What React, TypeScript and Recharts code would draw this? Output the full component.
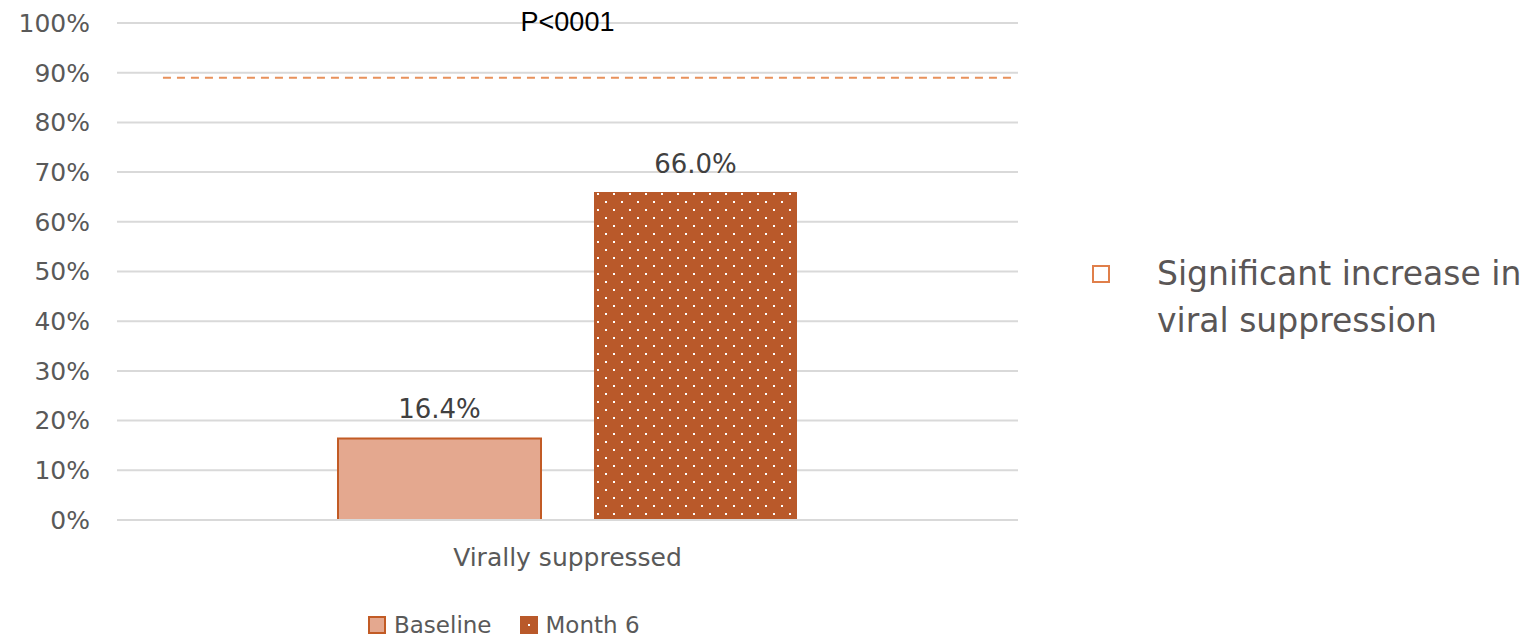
import React from 'react';
import {
  BarChart,
  Bar,
  XAxis,
  YAxis,
  CartesianGrid,
  ReferenceLine,
  LabelList,
  Legend,
} from 'recharts';

const categories = ['Virally suppressed'];
const baselineValues = [16.4];
const month6Values = [66.0];
const yTicks = [0, 10, 20, 30, 40, 50, 60, 70, 80, 90, 100];
const targetLine = 89;
const pValueText = 'P<0001';
const bulletLines = ['Significant increase in', 'viral suppression'];

const FONT = '"DejaVu Sans", sans-serif';
const TEXT = '#595959';
const BASE_FILL = '#E4A88F';
const BASE_STROKE = '#C25B25';
const M6_FILL = '#B9592A';
const DASH = '#E8915B';

const chartData = categories.map((name, i) => ({
  name,
  baseline: baselineValues[i],
  month6: month6Values[i],
}));

// dashed target line, starts a little in from the left edge of the plot
const TargetShape = (props: any) => {
  const { x1, x2, y1 } = props;
  const start = x1 + (x2 - x1) * 0.051;
  return (
    <line x1={start} x2={x2 - 2} y1={y1} y2={y1} stroke={DASH} strokeWidth={2} strokeDasharray="8 6" />
  );
};

const PLabel = (props: any) => {
  const { viewBox } = props;
  const cx = viewBox.x + viewBox.width / 2;
  return (
    <text
      x={cx}
      y={viewBox.y}
      dy={8}
      textAnchor="middle"
      fill="#000"
      fontFamily='"Liberation Sans", sans-serif'
      fontSize={27}
    >
      {pValueText}
    </text>
  );
};

const LegendContent = () => (
  <div style={{ display: 'flex', alignItems: 'center', fontFamily: FONT, fontSize: 23, color: TEXT }}>
    <svg width={18} height={18} style={{ marginRight: 8 }}>
      <rect x={1} y={1} width={16} height={16} fill={BASE_FILL} stroke={BASE_STROKE} strokeWidth={2} />
    </svg>
    <span style={{ marginRight: 28 }}>Baseline</span>
    <svg width={18} height={18} style={{ marginRight: 8 }}>
      <rect x={0} y={0} width={18} height={18} fill={M6_FILL} />
      <rect x={8} y={8} width={2} height={2} fill="#fff" />
    </svg>
    <span>Month 6</span>
  </div>
);

export default function App() {
  return (
    <div style={{ position: 'absolute', left: 0, top: 0, width: 1535, height: 638, background: '#fff' }}>
      <BarChart
        width={1040}
        height={638}
        data={chartData}
        margin={{ top: 23, right: 22, left: 0, bottom: 0 }}
        barGap={53}
        barSize={203}
      >
        <defs>
          <pattern id="dots" width={16} height={16} patternUnits="userSpaceOnUse" x={597} y={193}>
            <rect width={16} height={16} fill={M6_FILL} />
            <rect x={0} y={0} width={2} height={2} fill="#fff" />
            <rect x={8} y={8} width={2} height={2} fill="#fff" />
          </pattern>
        </defs>
        <CartesianGrid vertical={false} stroke="#D9D9D9" strokeWidth={2} />
        <XAxis
          dataKey="name"
          height={118}
          axisLine={{ stroke: '#D9D9D9', strokeWidth: 2 }}
          tickLine={false}
          tickSize={0}
          tickMargin={28}
          tick={{ fill: TEXT, fontFamily: FONT, fontSize: 25 }}
        />
        <YAxis
          domain={[0, 100]}
          ticks={yTicks}
          width={117}
          axisLine={false}
          tickLine={false}
          tickSize={0}
          tickMargin={27}
          tickFormatter={(v: number) => `${v}%`}
          tick={{ fill: TEXT, fontFamily: FONT, fontSize: 25 }}
        />
        <ReferenceLine y={100} stroke="none" label={<PLabel />} />
        <ReferenceLine y={targetLine} shape={<TargetShape />} />
        <Bar dataKey="baseline" fill={BASE_FILL} stroke={BASE_STROKE} strokeWidth={2} isAnimationActive={false}>
          <LabelList
            dataKey="baseline"
            position="top"
            offset={20}
            formatter={(v: any) => `${Number(v).toFixed(1)}%`}
            fill="#404040"
            fontFamily={FONT}
            fontSize={26}
          />
        </Bar>
        <Bar dataKey="month6" fill="url(#dots)" isAnimationActive={false}>
          <LabelList
            dataKey="month6"
            position="top"
            offset={19}
            formatter={(v: any) => `${Number(v).toFixed(1)}%`}
            fill="#404040"
            fontFamily={FONT}
            fontSize={26}
          />
        </Bar>
        <Legend
          layout="horizontal"
          verticalAlign="middle"
          align="center"
          content={<LegendContent />}
          wrapperStyle={{ top: 612, left: 368, width: 320 }}
        />
      </BarChart>
      <div style={{ position: 'absolute', left: 1092, top: 250, fontFamily: FONT, fontSize: 33, color: '#5a5656', lineHeight: '47px', whiteSpace: 'nowrap' }}>
        <div style={{ display: 'flex', alignItems: 'flex-start' }}>
          <svg width={18} height={18} style={{ marginTop: 15, marginRight: 47, flexShrink: 0 }}>
            <rect x={1} y={1} width={16} height={16} fill="none" stroke="#E07F4A" strokeWidth={2} />
          </svg>
          <div>
            {bulletLines.map((l) => (
              <div key={l}>{l}</div>
            ))}
          </div>
        </div>
      </div>
    </div>
  );
}
